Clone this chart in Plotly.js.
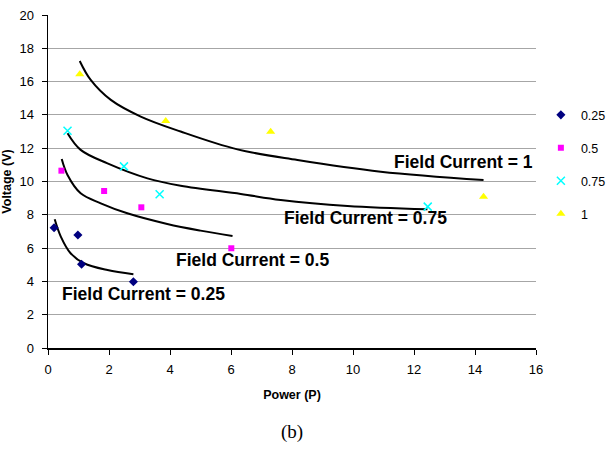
<!DOCTYPE html>
<html>
<head>
<meta charset="utf-8">
<script src="https://cdn.plot.ly/plotly-3.0.1.min.js"></script>
<style>html,body{margin:0;padding:0;background:#fff;}#chart{width:608px;height:449px;}</style>
</head>
<body>
<div id="chart"></div>
<script>
// Measured points
const p025 = [0.2, 0.98, 1.1, 2.8];
const v025 = [7.22, 6.79, 5.03, 3.98];
const p05 = [0.44, 1.84, 3.06, 6.01];
const v05 = [10.65, 9.43, 8.45, 5.99];
const p075 = [0.64, 2.49, 3.66, 12.45];
const v075 = [13.05, 10.91, 9.23, 8.49];
const p1 = [1.04, 3.86, 7.3, 14.28];
const v1 = [16.44, 13.63, 12.99, 9.09];

// Trend curves
const tp025 = [0.22, 0.42, 0.74, 1.18, 1.95, 2.8];
const tv025 = [7.73, 6.69, 5.69, 5.09, 4.68, 4.43];
const tp05 = [0.45, 0.64, 1.07, 1.73, 2.6, 3.91, 5.0, 6.05];
const tv05 = [11.35, 10.39, 9.29, 8.69, 8.09, 7.45, 7.05, 6.73];
const tp075 = [0.64, 1.07, 1.95, 3.26, 4.35, 6.32, 7.63, 9.82, 12.44];
const tv075 = [12.9, 11.9, 11.09, 10.19, 9.75, 9.25, 8.89, 8.53, 8.33];
const tp1 = [1.04, 1.4, 2.06, 3.04, 4.35, 6.21, 8.18, 10.91, 14.28];
const tv1 = [17.24, 16.1, 14.9, 13.9, 13.0, 11.93, 11.29, 10.59, 10.09];

const seriesNames = ['0.25', '0.5', '0.75', '1'];
const curveLabels = ['Field Current = 0.25', 'Field Current = 0.5', 'Field Current = 0.75', 'Field Current = 1'];
const labelX = [0.39, 4.12, 7.66, 11.27];
const labelY = [3.24, 5.29, 7.81, 11.15];

const curve = (x, y) => ({x: x, y: y, mode: 'lines', line: {color: '#000', width: 2, shape: 'spline'}, showlegend: false, hoverinfo: 'skip'});

const data = [
  curve(tp025, tv025), curve(tp05, tv05), curve(tp075, tv075), curve(tp1, tv1),
  {x: p025, y: v025, mode: 'markers', name: seriesNames[0], legendgroup: 'a',
   marker: {symbol: 'diamond', color: '#000080', size: 7}},
  {x: p05, y: v05, mode: 'markers', name: seriesNames[1], legendgroup: 'b',
   marker: {symbol: 'square', color: '#ff00ff', size: 6}},
  {x: p075, y: v075, mode: 'markers', name: seriesNames[2], legendgroup: 'c',
   marker: {symbol: 'x-thin-open', color: '#00ffff', size: 8, line: {color: '#00ffff', width: 1.5}}},
  {x: p1, y: v1, mode: 'markers', name: seriesNames[3], legendgroup: 'd',
   marker: {symbol: 'triangle-up', color: '#ffff00', size: 8}}
];

const annotations = curveLabels.map((t, i) => ({
  x: labelX[i], y: labelY[i], xref: 'x', yref: 'y', text: t, showarrow: false,
  xanchor: 'left', yanchor: 'middle',
  font: {family: 'Liberation Sans, Arial, sans-serif', size: 17.5, color: '#000', weight: 'bold'}
}));
annotations.push({
  x: 0.5, y: 0, xref: 'paper', yref: 'paper', yshift: -84, text: '(b)', showarrow: false,
  xanchor: 'center', yanchor: 'middle',
  font: {family: 'Liberation Serif, Times New Roman, serif', size: 19, color: '#000'}
});

const axisFont = {family: 'Liberation Sans, Arial, sans-serif', size: 13, color: '#000'};

const layout = {
  width: 608, height: 449,
  margin: {l: 48, r: 72, t: 15, b: 101, autoexpand: false},
  paper_bgcolor: '#fff', plot_bgcolor: '#fff',
  showlegend: true,
  legend: {x: 1.01, y: 0.744, xanchor: 'left', yanchor: 'top',
    font: {family: 'Liberation Sans, Arial, sans-serif', size: 12.5, color: '#000'},
    traceorder: 'grouped', tracegroupgap: 13.7, itemwidth: 30, bgcolor: 'rgba(0,0,0,0)'},
  xaxis: {
    range: [0, 16], dtick: 2, tick0: 0, showgrid: false, zeroline: false,
    showline: true, linecolor: '#000', linewidth: 1.5,
    ticks: 'outside', ticklen: 5, tickcolor: '#000', tickwidth: 1,
    ticklabelstandoff: 4,
    tickfont: axisFont,
    title: {text: 'Power (P)', standoff: 14, font: {family: 'Liberation Sans, Arial, sans-serif', size: 12.5, color: '#000', weight: 'bold'}}
  },
  yaxis: {
    range: [0, 20], dtick: 2, tick0: 0, showgrid: true, gridcolor: '#a6a6a6', gridwidth: 1, zeroline: false,
    showline: true, linecolor: '#000', linewidth: 1.5,
    ticks: 'outside', ticklen: 5, tickcolor: '#000', tickwidth: 1,
    ticklabelstandoff: 5,
    tickfont: axisFont,
    title: {text: 'Voltage (V)', standoff: 6, font: {family: 'Liberation Sans, Arial, sans-serif', size: 12.5, color: '#000', weight: 'bold'}}
  },
  annotations: annotations
};

Plotly.newPlot('chart', data, layout, {displayModeBar: false, staticPlot: true});
</script>
</body>
</html>
